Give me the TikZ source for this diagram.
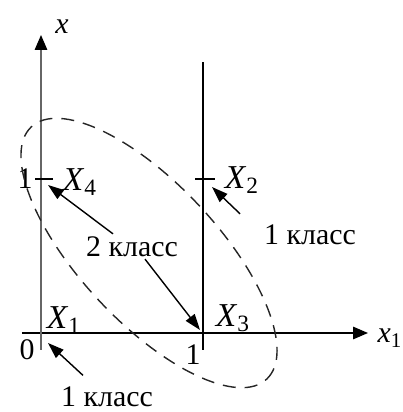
\documentclass[tikz,border=0pt]{standalone}
\usepackage{fontspec}
\setmainfont{Liberation Serif}
\usetikzlibrary{positioning, arrows.meta, calc}

\begin{document}
\begin{tikzpicture}[
    axis/.style={-{Triangle[length=3mm, width=2.5mm, color=black]}, line width=0.8pt},
    ptr/.style={-{Triangle[length=3.2mm, width=2.2mm]}, line width=0.8pt},
    cls/.style={font=\fontsize{17}{18}\selectfont, inner sep=1pt},
    num/.style={font=\fontsize{17}{18}\selectfont, inner sep=1pt},
    pt/.style={font=\fontsize{19}{21}\selectfont, inner sep=1pt},
    hull/.style={dash pattern=on 2.6mm off 1.8mm, line width=0.8pt, black!85}
  ]
  \useasboundingbox (-0.82,-1.58) rectangle (7.22,6.66);

  % axes and the line x1 = 1
  \coordinate (xfrom) at (-0.38,0);
  \coordinate (xto) at (6.54,0);
  \coordinate (yfrom) at (0,-0.34);
  \coordinate (yto) at (0,5.96);
  \coordinate (vbot) at (3.24,-0.34);
  \coordinate (vtop) at (3.24,5.42);
  \draw[axis] (xfrom) -- (xto);
  \draw[axis, black!60] (yfrom) -- (yto);
  \draw[line width=0.8pt] (vbot) -- (vtop);

  % the four points
  \coordinate (X1) at (0,0);
  \coordinate (X2) at (3.24,3.08);
  \coordinate (X3) at (3.24,0);
  \coordinate (X4) at (0,3.08);
  \draw[line width=0.8pt] ([xshift=-0.12cm]X4) -- ([xshift=0.24cm]X4);
  \draw[line width=0.8pt] ([xshift=-0.16cm]X2) -- ([xshift=0.24cm]X2);

  \node[num] (zero) at (-0.28,-0.34) {0};
  \node[num] (onex) at (3.04,-0.44) {1};
  \node[num] (oney) at (-0.32,3.08) {1};
  \node[pt, font=\fontsize{17}{19}\selectfont\itshape] (ylab) at (0.42,6.12) {x};
  \node[pt, font=\fontsize{17}{19}\selectfont] (xlab) at (6.98,-0.10) {\textit{x}\textsubscript{1}};

  \node[pt] (lX1) at (0.46,0.26) {\textit{X}\textsubscript{1}};
  \node[pt] (lX2) at (4.02,3.06) {\textit{X}\textsubscript{2}};
  \node[pt] (lX3) at (3.84,0.30) {\textit{X}\textsubscript{3}};
  \node[pt] (lX4) at (0.78,3.02) {\textit{X}\textsubscript{4}};

  % classes
  \node[cls] (two) at (1.82,1.72) {2 класс};
  \node[cls] (oneright) at (5.38,1.96) {1 класс};
  \node[cls] (onebottom) at (1.32,-1.27) {1 класс};

  \draw[ptr] ([shift={(-0.38,0.02)}]two.north) -- ([shift={(0.14,-0.12)}]X4);
  \draw[ptr] ([shift={(0.26,0)}]two.south) -- ([shift={(-0.06,0.06)}]X3);
  \draw[ptr] ([shift={(-0.44,0.18)}]oneright.north west) -- ([shift={(0.18,-0.16)}]X2);
  \draw[ptr] ([shift={(-0.48,0.18)}]onebottom.north) -- ([shift={(0.14,-0.20)}]X1);

  % dashed oval round the 2nd class
  \coordinate (hc) at (2.16,1.60);
  \draw[hull, rotate around={-47:(hc)}] (hc) ellipse (3.45 and 1.38);
\end{tikzpicture}
\end{document}
